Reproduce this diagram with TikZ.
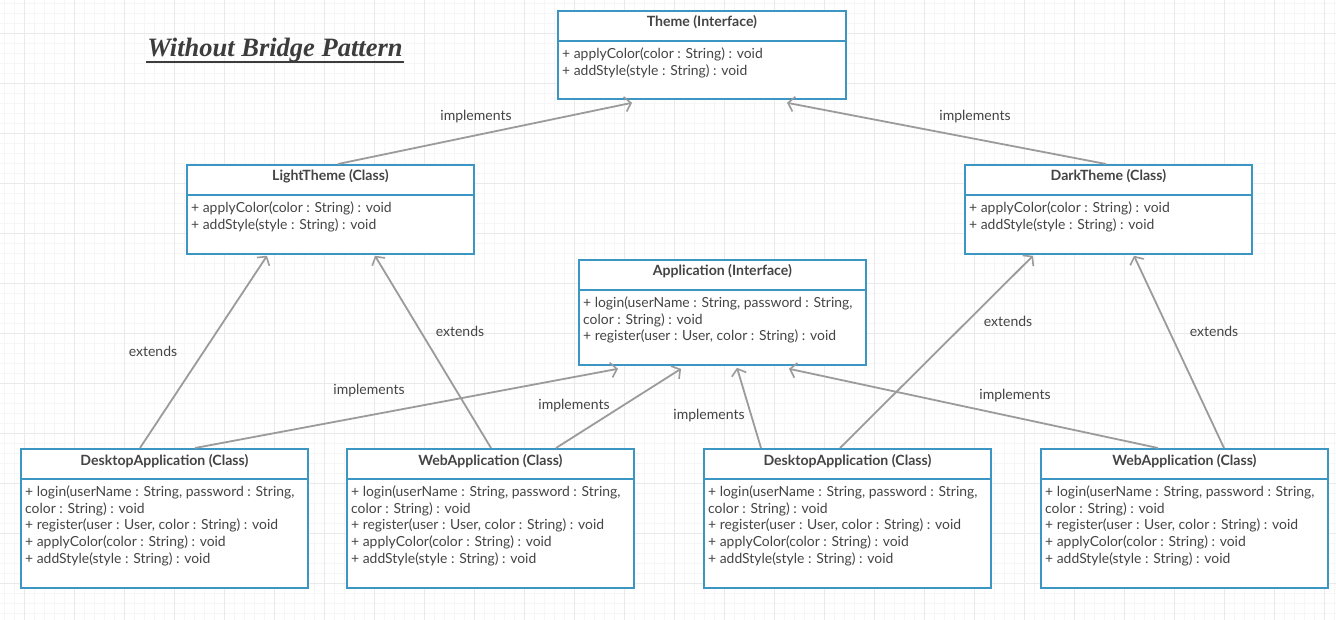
\documentclass[tikz,border=0pt]{standalone}
\usepackage{fontspec}
\setmainfont{Lato}
\newfontfamily\titlefont{Liberation Serif}
\usetikzlibrary{arrows.meta}
\definecolor{boxblue}{RGB}{60,150,195}
\definecolor{txt}{RGB}{68,68,68}
\definecolor{ttlc}{RGB}{60,60,60}
\definecolor{arrgray}{RGB}{155,155,155}
\definecolor{gridminor}{RGB}{246,246,246}
\definecolor{gridmajor}{RGB}{234,234,234}
\tikzset{
  classbox/.style={draw=boxblue, line width=1.8pt, fill=white, inner sep=0pt},
  divline/.style={draw=boxblue, line width=1.6pt},
  classtitle/.style={font=\fontsize{14.1}{16}\selectfont\bfseries, text=txt, inner sep=0pt, anchor=base},
  classbody/.style={font=\fontsize{13.9}{16.7}\selectfont, text=txt, inner sep=0pt, align=left, anchor=north west},
  conn/.style={draw=arrgray, line width=1.8pt, -{Straight Barb[length=6pt,width=15pt,line width=1.6pt]}},
  lbl/.style={font=\fontsize{14}{16}\selectfont, text=txt, inner sep=1pt},
  minorline/.style={draw=gridminor, line width=0.6pt},
  majorline/.style={draw=gridmajor, line width=0.8pt}
}
\newcommand{\umlclass}[7]{%
  \node[classbox, minimum width=#4pt, minimum height=#5pt, anchor=north west] (#1) at (#2,#3) {};
  \draw[divline] ([yshift=-31pt]#1.north west) -- ([yshift=-31pt]#1.north east);
  \node[classtitle] (#1-t) at ([yshift=-17pt]#1.north) {#6};
  \node[classbody] (#1-b) at ([xshift=5pt,yshift=-37.5pt]#1.north west) {#7};
}
\begin{document}
\begin{tikzpicture}[x=1pt,y=-1pt]
\useasboundingbox (0,0) rectangle (1336,620);
\fill[white] (0,0) rectangle (1336,620);
% grid
\foreach \x in {4,14,...,1334} \draw[minorline] (\x,0) -- (\x,620);
\foreach \y in {3,13,...,613} \draw[minorline] (0,\y) -- (1336,\y);
\foreach \x in {24,74,...,1324} \draw[majorline] (\x,0) -- (\x,620);
\foreach \y in {33,83,...,583} \draw[majorline] (0,\y) -- (1336,\y);

% title
\node[text=ttlc, inner sep=0pt, font=\titlefont\fontsize{26.5}{30}\selectfont\bfseries\itshape] (ttl) at (275,50) {Without Bridge Pattern};
\draw[ttlc, line width=1.6pt] (146,62) -- (404,62);

\umlclass{th}{557}{10}{288}{88}{Theme (Interface)}{+ applyColor(color : String) : void\\+ addStyle(style : String) : void}
\umlclass{lt}{186}{164}{287}{89}{LightTheme (Class)}{+ applyColor(color : String) : void\\+ addStyle(style : String) : void}
\umlclass{dt}{964}{164}{287}{89}{DarkTheme (Class)}{+ applyColor(color : String) : void\\+ addStyle(style : String) : void}
\umlclass{ap}{578}{259}{287}{105}{Application (Interface)}{+ login(userName : String, password : String,\\color : String) : void\\+ register(user : User, color : String) : void}
\umlclass{d1}{20}{448}{287}{139}{DesktopApplication (Class)}{+ login(userName : String, password : String,\\color : String) : void\\+ register(user : User, color : String) : void\\+ applyColor(color : String) : void\\+ addStyle(style : String) : void}
\umlclass{w1}{346}{448}{287}{139}{WebApplication (Class)}{+ login(userName : String, password : String,\\color : String) : void\\+ register(user : User, color : String) : void\\+ applyColor(color : String) : void\\+ addStyle(style : String) : void}
\umlclass{d2}{703}{448}{287}{139}{DesktopApplication (Class)}{+ login(userName : String, password : String,\\color : String) : void\\+ register(user : User, color : String) : void\\+ applyColor(color : String) : void\\+ addStyle(style : String) : void}
\umlclass{w2}{1040}{448}{287}{139}{WebApplication (Class)}{+ login(userName : String, password : String,\\color : String) : void\\+ register(user : User, color : String) : void\\+ applyColor(color : String) : void\\+ addStyle(style : String) : void}

% connectors
\draw[conn] ([xshift=152pt]lt.north west) -- ([xshift=75pt,yshift=-3pt]th.south west);
\draw[conn] ([xshift=142pt]dt.north west) -- ([xshift=230pt,yshift=-3pt]th.south west);
\draw[conn] ([xshift=120pt]d1.north west) -- ([xshift=81pt,yshift=-1pt]lt.south west);
\draw[conn] ([xshift=145pt]w1.north west) -- ([xshift=189pt,yshift=-1pt]lt.south west);
\draw[conn] ([xshift=58pt]d2.north west) -- ([xshift=159pt,yshift=-2pt]ap.south west);
\draw[conn] ([xshift=137pt]d2.north west) -- ([xshift=69pt,yshift=-1pt]dt.south west);
\draw[conn] ([xshift=184pt]w2.north west) -- ([xshift=170pt,yshift=-1pt]dt.south west);
\draw[conn] ([xshift=175pt]d1.north west) -- ([xshift=40pt,yshift=-3pt]ap.south west);
\draw[conn] ([xshift=210pt]w1.north west) -- ([xshift=103pt,yshift=-3pt]ap.south west);
\draw[conn] ([xshift=118pt]w2.north west) -- ([xshift=211pt,yshift=-3pt]ap.south west);

% labels
\node[lbl] (l1) at (476,117) {implements};
\node[lbl] (l2) at (975,117) {implements};
\node[lbl] (l3) at (153,351) {extends};
\node[lbl] (l4) at (460,331) {extends};
\node[lbl] (l5) at (369,391) {implements};
\node[lbl] (l6) at (574,406) {implements};
\node[lbl] (l7) at (709,416) {implements};
\node[lbl] (l8) at (1015,396) {implements};
\node[lbl] (l9) at (1008,321) {extends};
\node[lbl] (l10) at (1214,331) {extends};
\end{tikzpicture}
\end{document}
